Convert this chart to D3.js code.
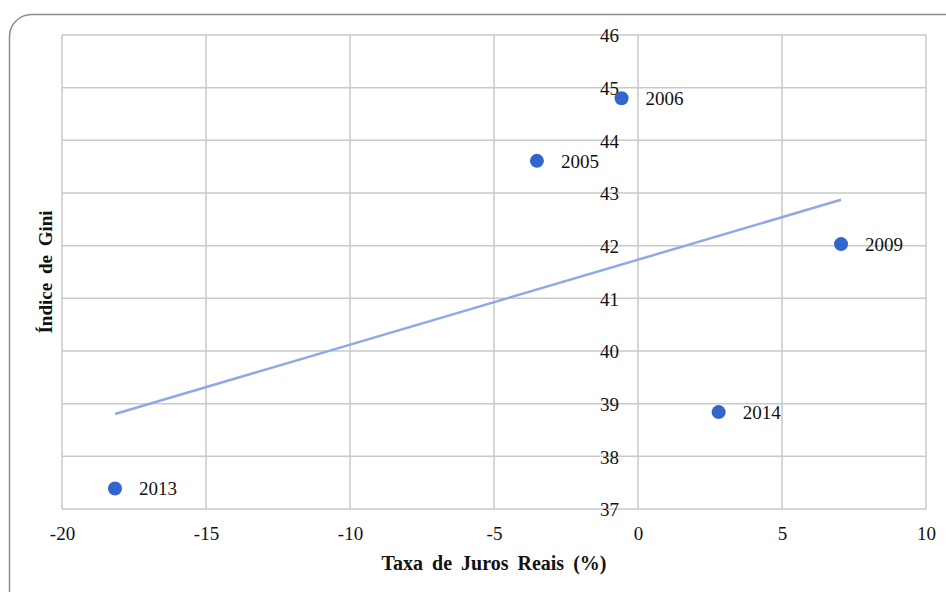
<!DOCTYPE html>
<html>
<head>
<meta charset="utf-8">
<script src="https://cdn.jsdelivr.net/npm/d3@7"></script>
<style>
  html, body { margin: 0; padding: 0; background: #fff; }
  svg { display: block; }
  svg text { font-family: "Liberation Serif", "Times New Roman", serif; fill: #111; }
</style>
</head>
<body>
<svg id="chart" width="946" height="592"></svg>
<script>
// Real interest rate (%) vs Gini index, by year
const years = ["2005", "2006", "2009", "2013", "2014"];
const juros = [-3.51, -0.57, 7.05, -18.16, 2.80];
const gini = [43.61, 44.80, 42.03, 37.39, 38.84];

const xTicks = [-20, -15, -10, -5, 0, 5, 10];
const yTicks = [37, 38, 39, 40, 41, 42, 43, 44, 45, 46];

const svg = d3.select("#chart");
const plot = { left: 62, right: 926, top: 35, bottom: 509 };
const fmt = d => String(d); // plain hyphen for negatives

// outer frame with rounded corners
svg.append("rect")
  .attr("x", 9.5).attr("y", 14.5)
  .attr("width", 980).attr("height", 600)
  .attr("rx", 22).attr("ry", 22)
  .attr("fill", "none")
  .attr("stroke", "#8c8c8c")
  .attr("stroke-width", 1.5);

const x = d3.scaleLinear().domain([-20, 10]).range([plot.left, plot.right]);
const y = d3.scaleLinear().domain([37, 46]).range([plot.bottom, plot.top]);

// gridlines
const grid = svg.append("g").attr("stroke", "#c9c9c9").attr("stroke-width", 1.5);
grid.selectAll("line.v").data(xTicks).join("line")
  .attr("x1", d => x(d)).attr("x2", d => x(d))
  .attr("y1", plot.top).attr("y2", plot.bottom);
grid.selectAll("line.h").data(yTicks).join("line")
  .attr("x1", plot.left).attr("x2", plot.right)
  .attr("y1", d => y(d)).attr("y2", d => y(d));

// x axis labels below the plot
const xAxis = d3.axisBottom(x).tickValues(xTicks).tickSize(0).tickPadding(0).tickFormat(fmt);
const gx = svg.append("g").attr("transform", `translate(0,${plot.bottom + 31})`).call(xAxis);
gx.attr("font-family", null).attr("font-size", null);
gx.select(".domain").remove();
gx.selectAll("text").attr("dy", 0).attr("font-size", 19).attr("fill", "#111");

// y axis labels sit at x = 0
const yAxis = d3.axisLeft(y).tickValues(yTicks).tickSize(0).tickPadding(0).tickFormat(fmt);
const gy = svg.append("g").attr("transform", `translate(${x(0) - 19},0)`).call(yAxis);
gy.attr("font-family", null).attr("font-size", null);
gy.select(".domain").remove();
gy.selectAll("text").attr("dy", "0.36em").attr("font-size", 19).attr("fill", "#111");

// linear trend line (least squares) over the data range
const n = juros.length;
const mx = d3.mean(juros), my = d3.mean(gini);
let sxy = 0, sxx = 0;
for (let i = 0; i < n; i++) {
  sxy += (juros[i] - mx) * (gini[i] - my);
  sxx += (juros[i] - mx) ** 2;
}
const slope = sxy / sxx, intercept = my - slope * mx;
const [xmin, xmax] = d3.extent(juros);
svg.append("line")
  .attr("x1", x(xmin)).attr("y1", y(intercept + slope * xmin))
  .attr("x2", x(xmax)).attr("y2", y(intercept + slope * xmax))
  .attr("stroke", "#8eaae6").attr("stroke-width", 2.5);

// points and year labels
const pts = years.map((yr, i) => ({ yr, jx: juros[i], gy: gini[i] }));
svg.selectAll("circle.pt").data(pts).join("circle")
  .attr("cx", d => x(d.jx)).attr("cy", d => y(d.gy))
  .attr("r", 7).attr("fill", "#3366cc");
svg.selectAll("text.lbl").data(pts).join("text")
  .attr("x", d => x(d.jx) + 24).attr("y", d => y(d.gy) + 7)
  .attr("font-size", 19)
  .text(d => d.yr);

// axis titles
svg.append("text")
  .attr("x", (plot.left + plot.right) / 2).attr("y", 570)
  .attr("text-anchor", "middle").attr("font-size", 20).attr("font-weight", "bold")
  .style("word-spacing", "4px")
  .text("Taxa de Juros Reais (%)");
svg.append("text")
  .attr("transform", `translate(52,${(plot.top + plot.bottom) / 2}) rotate(-90)`)
  .attr("text-anchor", "middle").attr("font-size", 19).attr("font-weight", "bold")
  .style("word-spacing", "4px")
  .text("Índice de Gini");
</script>
</body>
</html>
